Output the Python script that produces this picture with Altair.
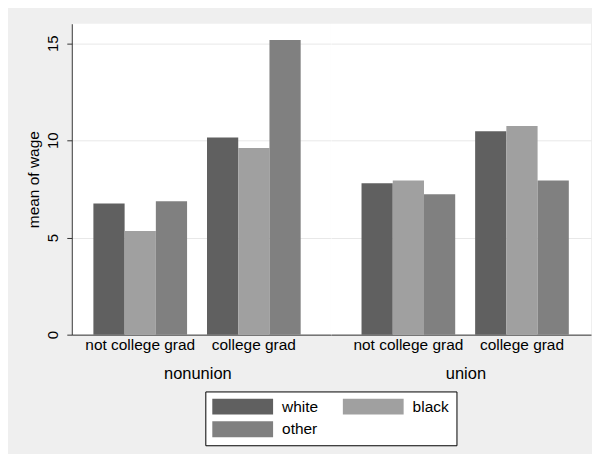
import altair as alt
import pandas as pd

unions = ["nonunion", "union"]
grads = ["not college grad", "college grad"]
races = ["white", "black", "other"]
colors = ["#606060", "#a0a0a0", "#808080"]

nonunion_notgrad = [6.75, 5.33, 6.87]
nonunion_grad = [10.14, 9.60, 15.16]
union_notgrad = [7.79, 7.93, 7.23]
union_grad = [10.46, 10.73, 7.93]

rows = []
for u, g, vals in [("nonunion", "not college grad", nonunion_notgrad),
                   ("nonunion", "college grad", nonunion_grad),
                   ("union", "not college grad", union_notgrad),
                   ("union", "college grad", union_grad)]:
    for r, v in zip(races, vals):
        rows.append({"union": u, "grad": g, "race": r, "wage": v})
df = pd.DataFrame(rows)

FONT = "Liberation Sans"
GRID = "#e8e8e8"
DARK = "#333333"
H = 312


def panel(u, width, pad_outer, align, title_x, show_y):
    if show_y:
        y_axis = alt.Axis(values=[0, 5, 10, 15], grid=True, gridColor=GRID,
                          domainColor=DARK, tickColor=DARK, tickSize=5,
                          labelAngle=270, labelAlign="center", labelBaseline="bottom",
                          labelPadding=6, labelFontSize=15, labelColor="black",
                          labelFont=FONT, title="mean of wage", titleFont=FONT,
                          titleFontSize=15.5, titleFontWeight="normal", titleColor="black",
                          titleAngle=270, titleAlign="center", titleBaseline="alphabetic",
                          titleX=-33.5, titleY=H / 2)
    else:
        y_axis = alt.Axis(values=[0, 5, 10, 15], grid=True, gridColor=GRID,
                          labels=False, ticks=False, domain=False, title=None)
    return alt.Chart(df).transform_filter(alt.datum.union == u).mark_bar().encode(
        x=alt.X("grad:N", sort=grads,
                scale=alt.Scale(paddingInner=20 / 114, paddingOuter=pad_outer, align=align),
                axis=alt.Axis(title=u, labelAngle=0, ticks=False, domainColor=DARK,
                              labelFontSize=15.5, labelFont=FONT, labelColor="black",
                              labelPadding=3, titleFont=FONT, titleFontSize=16.5,
                              titleFontWeight="normal", titleColor="black",
                              titlePadding=13, titleX=title_x)),
        xOffset=alt.XOffset("race:N", sort=races,
                            scale=alt.Scale(paddingInner=0, paddingOuter=0)),
        y=alt.Y("wage:Q", scale=alt.Scale(domain=[0, 16], nice=False), axis=y_axis),
        color=alt.Color("race:N", sort=races,
                        scale=alt.Scale(domain=races, range=colors),
                        legend=alt.Legend(title=None, orient="none", legendX=134, legendY=369,
                                          direction="horizontal",
                                          columns=2, columnPadding=24, rowPadding=6,
                                          symbolType="M-1,-1H6.625V1H-1Z",
                                          symbolSize=256, symbolStrokeWidth=0,
                                          symbolOpacity=1, labelFont=FONT,
                                          labelFontSize=15.5, labelColor="black",
                                          labelOffset=54, fillColor="white",
                                          strokeColor="black", padding=7)),
    ).properties(width=width, height=H)


left = panel("nonunion", 260, 52 / 228, 0.417, 126, True)
right = panel("union", 261, 53 / 228, 0.58, 135, False)

chart = alt.hconcat(left, right, spacing=0).resolve_scale(x="independent", xOffset="independent").properties(
    background="#efefef",
    padding={"left": 18, "top": 15, "right": 1, "bottom": 7},
).configure_view(fill="white", strokeWidth=0)

chart.save("out.html", embed_options={"renderer": "svg", "actions": False})
